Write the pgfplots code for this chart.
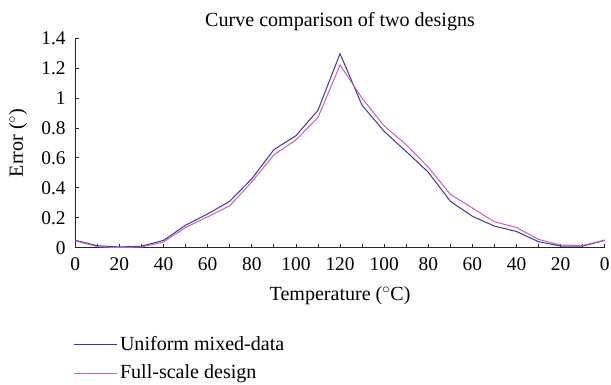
\documentclass[border=0pt]{standalone}
\usepackage{fontspec}
\setmainfont{Liberation Serif}
\usepackage{pgfplots}
\pgfplotsset{compat=1.18}
\definecolor{cblue}{RGB}{55,55,165}
\definecolor{cpink}{RGB}{200,95,190}
\newcommand{\fs}{\fontsize{15pt}{18pt}\selectfont}
\newcommand{\ft}{\fontsize{14.5pt}{17pt}\selectfont}
\begin{document}
\fs
\begin{tikzpicture}
\begin{axis}[
  scale only axis,
  width=396pt, height=156.75pt,
  xmin=0, xmax=24, ymin=0, ymax=1.4,
  axis x line=bottom, axis y line=left,
  axis line style={-, line width=0.8pt, black!85},
  tick align=inside,
  tick style={black!85, line width=0.6pt},
  major tick length=3pt,
  xtick={0,...,24},
  xticklabels={0,,20,,40,,60,,80,,100,,120,,100,,80,,60,,40,,20,,0},
  ytick={0,0.2,...,1.4},
  yticklabels={0,0.2,0.4,0.6,0.8,1,1.2,1.4},
  /pgf/number format/assume math mode=true,
  ticklabel style={font=\ft},
  xticklabel style={inner xsep=1pt, yshift=-2pt},
  yticklabel style={xshift=-2pt},
  title={Curve comparison of two designs},
  title style={at={(axis description cs:0.5,1)}, anchor=center, yshift=6pt, inner xsep=1pt, inner ysep=9.6pt, font=\fs},
  xlabel={Temperature ($^\circ$C)},
  xlabel style={at={(axis description cs:0.5,0)}, anchor=center, yshift=-35.5pt, font=\fs},
  ylabel={Error ($^\circ$)},
  ylabel style={at={([xshift=-42.75pt]axis description cs:0,0.5)}, anchor=center, inner ysep=6.75pt, font=\fs},
  legend style={at={(axis description cs:0,0)}, anchor=north west, xshift=-4.5pt, yshift=-64pt,
    draw=none, fill=none, font=\fs, row sep=4.5pt, inner ysep=0pt},
  legend cell align=left,
  legend image code/.code={\draw[#1] (0pt,0pt) -- (26pt,0pt); \path (0pt,0pt) -- (32pt,0pt);},
]
\addplot[cblue, line width=0.75pt] coordinates {
(0,0.05) (1,0.013) (2,0.005) (3,0.01) (4,0.049) (5,0.15) (6,0.226) (7,0.31)
(8,0.46) (9,0.655) (10,0.748) (11,0.918) (12,1.296) (13,0.951) (14,0.777)
(15,0.642) (16,0.504) (17,0.31) (18,0.21) (19,0.144) (20,0.108) (21,0.04)
(22,0.011) (23,0.011) (24,0.049)};
\addlegendentry{Uniform mixed-data}
\addplot[cpink, line width=0.75pt] coordinates {
(0,0.046) (1,0.007) (2,0.0) (3,0.005) (4,0.038) (5,0.135) (6,0.206) (7,0.28)
(8,0.44) (9,0.62) (10,0.72) (11,0.87) (12,1.22) (13,0.998) (14,0.814)
(15,0.688) (16,0.538) (17,0.356) (18,0.265) (19,0.173) (20,0.135) (21,0.055)
(22,0.018) (23,0.015) (24,0.051)};
\addlegendentry{Full-scale design}
\end{axis}
\end{tikzpicture}
\end{document}
